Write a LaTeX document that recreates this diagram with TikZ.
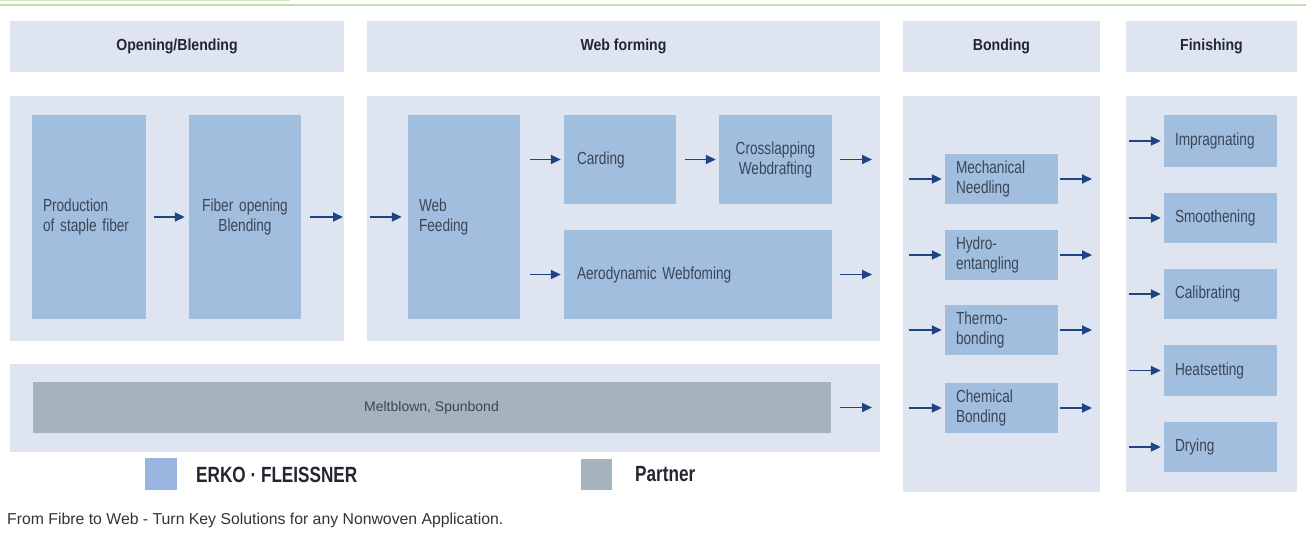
\documentclass[tikz,border=0pt]{standalone}
\usepackage{fontspec}
\setmainfont{Liberation Sans}
\newfontfamily\cond[FakeStretch=0.78]{Liberation Sans}
\newfontfamily\condH[FakeStretch=0.88]{Liberation Sans}
\usetikzlibrary{arrows.meta}
\definecolor{panel}{RGB}{222,229,241}
\definecolor{boxb}{RGB}{162,190,222}
\definecolor{partn}{RGB}{165,180,188}
\definecolor{arr}{RGB}{30,68,132}
\definecolor{txt}{RGB}{58,70,88}
\definecolor{hdr}{RGB}{35,38,48}
\definecolor{grn}{RGB}{196,224,176}
\begin{document}
\begin{tikzpicture}[x=1pt,y=-1pt,
  panelbg/.style={fill=panel, draw=none},
  hdrbox/.style={fill=panel, inner sep=0pt, font=\condH\bfseries\fontsize{16}{18}\selectfont, text=hdr},
  box/.style={fill=boxb, inner xsep=11pt, inner ysep=0pt, font=\cond\fontsize{17.5}{20}\selectfont, text=txt, align=left},
  cbox/.style={box, align=center},
  flow/.style={draw=arr, line width=1.9pt, -{Triangle[length=10pt,width=9pt]}},
  legtxt/.style={font=\cond\bfseries\fontsize{22}{24}\selectfont, text=hdr, anchor=west, inner sep=0pt}
]
\useasboundingbox (0,0) rectangle (1306,543);
% top green lines
\draw[grn, line width=1.6pt] (0,5) -- (1306,5);
\draw[grn!75, line width=1.5pt] (0,0.75) -- (290,0.75);

% headers
\node[hdrbox, minimum width=334pt, minimum height=51pt] (hOpen) at (177,46.5) {Opening/Blending};
\node[hdrbox, minimum width=513pt, minimum height=51pt] (hWeb) at (623.5,46.5) {Web forming};
\node[hdrbox, minimum width=197pt, minimum height=51pt] (hBond) at (1001.5,46.5) {Bonding};
\node[hdrbox, minimum width=171pt, minimum height=51pt] (hFin) at (1211.5,46.5) {Finishing};

% panels
\fill[panelbg] (10,96) rectangle (344,341);
\fill[panelbg] (367,96) rectangle (880,341);
\fill[panelbg] (10,364) rectangle (880,452);
\fill[panelbg] (903,96) rectangle (1100,492);
\fill[panelbg] (1126,96) rectangle (1297,492);

% opening / blending
\node[box, text width=92pt, minimum height=204pt] (prod) at (89,217) {Production\\of staple fiber};
\node[cbox, text width=90pt, minimum height=204pt] (fib) at (245,217) {Fiber opening\\Blending};

% web forming
\node[box, text width=90pt, minimum height=204pt] (feed) at (464,217) {Web\\Feeding};
\node[box, inner xsep=13pt, text width=86pt, minimum height=89pt] (card) at (620,159.5) {Carding};
\node[cbox, text width=91pt, minimum height=89pt] (cross) at (775.5,159.5) {Crosslapping\\Webdrafting};
\node[box, inner xsep=13pt, text width=242pt, minimum height=89pt] (aero) at (698,274.5) {Aerodynamic Webfoming};

% meltblown
\node[fill=partn, minimum width=798pt, minimum height=51pt, inner sep=0pt, font=\fontsize{14}{16}\selectfont, text=txt] (melt) at (431.5,407.5) {Meltblown, Spunbond};

% bonding
\node[box, text width=91pt, minimum height=50pt] (mech) at (1001.5,179) {Mechanical\\Needling};
\node[box, text width=91pt, minimum height=50pt] (hydro) at (1001.5,255) {Hydro-\\entangling};
\node[box, text width=91pt, minimum height=50pt] (thermo) at (1001.5,330) {Thermo-\\bonding};
\node[box, text width=91pt, minimum height=50pt] (chem) at (1001.5,408) {Chemical\\Bonding};

% finishing
\node[box, text width=91pt, minimum height=52pt] (impr) at (1220.5,141) {Impragnating};
\node[box, text width=91pt, minimum height=50pt] (smooth) at (1220.5,218) {Smoothening};
\node[box, text width=91pt, minimum height=50pt] (calib) at (1220.5,294) {Calibrating};
\node[box, text width=91pt, minimum height=51pt] (heat) at (1220.5,370.5) {Heatsetting};
\node[box, text width=91pt, minimum height=50pt] (dry) at (1220.5,447) {Drying};

% free arrow ends
\coordinate (fibOut) at (343,217);
\coordinate (feedIn) at (370,217);
\coordinate (crossOut) at (872,159.5);
\coordinate (aeroOut) at (872,274.5);
\coordinate (meltOut) at (872,407.5);
\foreach \n in {mech,hydro,thermo,chem}{
  \coordinate (\n In) at (909,0 |- \n);
  \coordinate (\n Out) at (1092,0 |- \n);
}
\foreach \n in {impr,smooth,calib,heat,dry}{
  \coordinate (\n In) at (1129,0 |- \n);
}

% arrows
\draw[flow, shorten <=8pt, shorten >=4pt] (prod) -- (fib);
\draw[flow, shorten <=9pt] (fib) -- (fibOut);
\draw[flow, shorten >=6pt] (feedIn) -- (feed);
\draw[flow, shorten <=10pt, shorten >=3pt] (feed.east |- card.west) -- (card.west);
\draw[flow, shorten <=10pt, shorten >=3pt] (feed.east |- aero.west) -- (aero.west);
\draw[flow, shorten <=9pt, shorten >=3pt] (card) -- (cross);
\draw[flow, shorten <=8pt] (cross) -- (crossOut);
\draw[flow, shorten <=8pt] (aero) -- (aeroOut);
\draw[flow, shorten <=9pt] (melt) -- (meltOut);
\foreach \n in {mech,hydro,thermo,chem}{
  \draw[flow, shorten >=3pt] (\n In) -- (\n);
  \draw[flow, shorten <=2pt] (\n) -- (\n Out);
}
\foreach \n in {impr,smooth,calib,heat,dry}{
  \draw[flow, shorten >=3pt] (\n In) -- (\n);
}

% legend
\node[fill=boxb!95!blue, minimum width=32pt, minimum height=32pt, inner sep=0pt] (legE) at (161,474) {};
\node[legtxt] (legEt) at (196,474.5) {ERKO · FLEISSNER};
\node[fill=partn, minimum width=31pt, minimum height=31pt, inner sep=0pt] (legP) at (596.5,474) {};
\node[legtxt] (legPt) at (635,474.5) {Partner};

% caption
\node[anchor=base west, inner sep=0pt, font=\fontsize{15.8}{18}\selectfont, text=black!80] (cap) at (7,524) {From Fibre to Web - Turn Key Solutions for any Nonwoven Application.};
\end{tikzpicture}
\end{document}
